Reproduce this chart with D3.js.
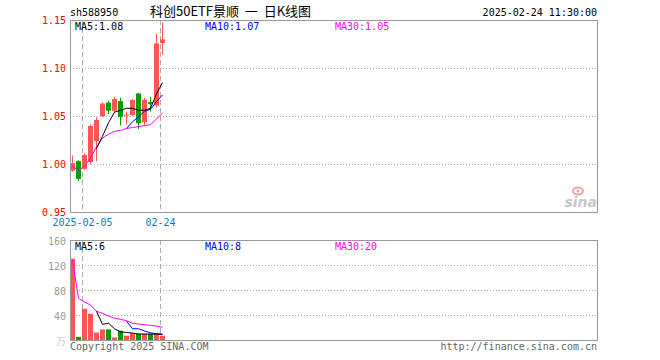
<!DOCTYPE html>
<html><head><meta charset="utf-8">
<script src="https://cdn.jsdelivr.net/npm/d3@7/dist/d3.min.js"></script>
<style>body{margin:0;background:#fff}svg{display:block}text{font-family:"DejaVu Sans Mono","Liberation Mono",monospace;font-size:10px}</style>
</head><body><svg id="c" width="660" height="360"></svg>
<script>
const dates = ["2025-01-24","2025-01-27","2025-02-05","2025-02-06","2025-02-07","2025-02-10","2025-02-11","2025-02-12","2025-02-13","2025-02-14","2025-02-17","2025-02-18","2025-02-19","2025-02-20","2025-02-21","2025-02-24"];
const open  = [0.993,1.003,0.995,1.002,1.024,1.050,1.064,1.0555,1.0655,1.0505,1.051,1.0735,1.0435,1.0645,1.061,1.126];
const close = [1.001,0.9845,1.0096,1.0396,1.046,1.063,1.0555,1.0676,1.0493,1.0515,1.0666,1.0424,1.067,1.0624,1.1256,1.1297];
const high  = [1.009,1.004,1.011,1.041,1.049,1.064,1.066,1.070,1.069,1.0545,1.068,1.074,1.069,1.070,1.1356,1.1476];
const low   = [0.992,0.982,0.994,1.000,1.003,1.049,1.052,1.054,1.040,1.041,1.050,1.0365,1.040,1.0545,1.059,1.1139];
const ma5   = [null,null,null,null,1.016,1.029,1.043,1.054,1.056,1.058,1.058,1.056,1.056,1.058,1.073,1.085];
const ma10  = [null,null,null,null,null,null,null,null,null,1.037,1.044,1.049,1.055,1.057,1.065,1.072];
const ma30  = [0.9975,0.993,0.998,1.006,1.018,1.027,1.031,1.034,1.035,1.037,1.038,1.039,1.040,1.041,1.047,1.053];
const volume = [130,5,50,42,12,17,17,4,15,7,11,10,10,10,10,7];
const vma5  = [null,null,null,null,46,25,27,18,13,12,11,9.5,9.5,9.5,9.5,9];
const vma10 = [null,null,null,null,null,null,null,null,null,30,18,18,14.5,11.5,10,9.5];
const vma30 = [129,66.7,61,56,46,42.7,38.4,34.7,33,31,26.7,25.6,24.5,23.5,22.4,20.3];
const priceTicks = [1.15,1.10,1.05,1.00,0.95];
const volTicks = [160,120,80,40];
const dateLabels = [{i:2,t:"2025-02-05"},{i:15,t:"02-24"}];
const title = "科创50ETF景顺  一  日K线图";
const code = "sh588950";
const stamp = "2025-02-24 11:30:00";
const maLabels = ["MA5:1.08","MA10:1.07","MA30:1.05"];
const vmaLabels = ["MA5:6","MA10:8","MA30:20"];

const RED="#ff5555", GREEN="#00a000", GRID="#aaa";
const svg = d3.select("#c");
const x = d3.scaleLinear().domain([0,88]).range([70,598]);
const y = d3.scaleLinear().domain([0.95,1.15]).range([212,20]);
const yv = d3.scaleLinear().domain([0,160]).range([340,240]);
const idx = d3.range(dates.length);

function panel(top,bottom,ys,ticks){
  const g = svg.append("g");
  g.selectAll("line.h").data(ticks.filter(t=>ys(t)>top+1 && ys(t)<bottom-1)).enter().append("line")
    .attr("x1",70).attr("x2",598).attr("y1",d=>Math.round(ys(d))+0.5).attr("y2",d=>Math.round(ys(d))+0.5)
    .attr("stroke",GRID).attr("stroke-dasharray","1,2");
  g.selectAll("line.v").data(dateLabels).enter().append("line")
    .attr("x1",d=>x(d.i)+0.5).attr("x2",d=>x(d.i)+0.5).attr("y1",top).attr("y2",bottom)
    .attr("stroke",GRID).attr("stroke-dasharray","5,3");
  return g;
}
panel(20,212,y,priceTicks);
panel(240,340,yv,volTicks.concat([0]));

// sina logo
svg.append("text").attr("x",597).attr("y",207).attr("text-anchor","end")
  .style("font-family","DejaVu Sans").style("font-style","italic").style("font-weight","bold").style("font-size","14px")
  .attr("fill","#c8c8c8").text("sina");
svg.append("ellipse").attr("cx",578).attr("cy",191).attr("rx",5).attr("ry",3.5).attr("fill","none").attr("stroke","#f4a0a0").attr("stroke-width",2);
svg.append("circle").attr("cx",578).attr("cy",191).attr("r",1.5).attr("fill","#f4a0a0");

// candles
const c = svg.append("g");
c.selectAll("line").data(idx).enter().append("line")
  .attr("x1",i=>x(i)+2.5).attr("x2",i=>x(i)+2.5).attr("y1",i=>y(high[i])).attr("y2",i=>y(low[i]))
  .attr("stroke",i=>close[i]>=open[i]?RED:GREEN);
c.selectAll("rect").data(idx).enter().append("rect")
  .attr("x",i=>x(i)).attr("width",5)
  .attr("y",i=>y(Math.max(open[i],close[i])))
  .attr("height",i=>Math.max(1,Math.abs(y(open[i])-y(close[i]))))
  .attr("fill",i=>close[i]>=open[i]?RED:GREEN);

function maLine(arr,ys,color){
  const line = d3.line().defined(i=>arr[i]!=null).x(i=>x(i)+2.5).y(i=>ys(arr[i]));
  svg.append("path").attr("d",line(idx)).attr("fill","none").attr("stroke",color).attr("stroke-width",1);
}
maLine(ma30,y,"#ff00ff"); maLine(ma10,y,"#0000ff"); maLine(ma5,y,"#000");

// volume bars
svg.append("g").selectAll("rect").data(idx).enter().append("rect")
  .attr("x",i=>x(i)).attr("width",5).attr("y",i=>yv(volume[i])).attr("height",i=>yv(0)-yv(volume[i]))
  .attr("fill",i=>close[i]>=open[i]?RED:GREEN);
maLine(vma30,yv,"#ff00ff"); maLine(vma10,yv,"#0000ff"); maLine(vma5,yv,"#000");

// frames
svg.append("rect").attr("x",70.5).attr("y",20.5).attr("width",527).attr("height",192).attr("fill","none").attr("stroke","#999");
svg.append("rect").attr("x",70.5).attr("y",240.5).attr("width",527).attr("height",100).attr("fill","none").attr("stroke","#999");

// axis labels
const ya = d3.axisLeft(y).tickValues(priceTicks).tickSize(0).tickPadding(4).tickFormat(d3.format(".2f"));
const ga = svg.append("g").attr("transform","translate(70,0)").call(ya);
ga.select(".domain").remove();
ga.selectAll("text").attr("fill","#ff0000").style("font-size","10px").style("font-family","DejaVu Sans Mono");
const va = d3.axisLeft(yv).tickValues(volTicks).tickSize(0).tickPadding(4).tickFormat(d3.format("d"));
const gv = svg.append("g").attr("transform","translate(70,1)").call(va);
gv.select(".domain").remove();
gv.selectAll("text").attr("fill","#999").style("font-size","10px").style("font-family","DejaVu Sans Mono");
svg.append("text").attr("x",66).attr("y",345).attr("text-anchor","end").attr("fill","#ccc")
  .style("font-family","Noto Sans CJK SC").style("font-size","10px").text("万");

svg.selectAll("text.d").data(dateLabels).enter().append("text")
  .attr("x",d=>x(d.i)+0.5).attr("y",226).attr("text-anchor","middle").attr("fill","#0a7ad2").text(d=>d.t);

// header
svg.append("text").attr("x",70).attr("y",16).text(code);
svg.append("text").attr("x",150).attr("y",16).style("font-family","Noto Sans CJK SC").style("font-size","13px")
  .style("white-space","pre").attr("xml:space","preserve").text(title);
svg.append("text").attr("x",597).attr("y",16).attr("text-anchor","end").text(stamp);
const maColors=["#000","#0000ff","#ff00ff"], maX=[75,205,335];
maLabels.forEach((t,k)=>svg.append("text").attr("x",maX[k]).attr("y",30).attr("fill",maColors[k]).text(t));
vmaLabels.forEach((t,k)=>svg.append("text").attr("x",maX[k]).attr("y",250).attr("fill",maColors[k]).text(t));

svg.append("text").attr("x",70).attr("y",350).attr("fill","#666").text("Copyright 2025 SINA.COM");
svg.append("text").attr("x",597).attr("y",350).attr("text-anchor","end").attr("fill","#666").text("http://finance.sina.com.cn");
</script></body></html>
